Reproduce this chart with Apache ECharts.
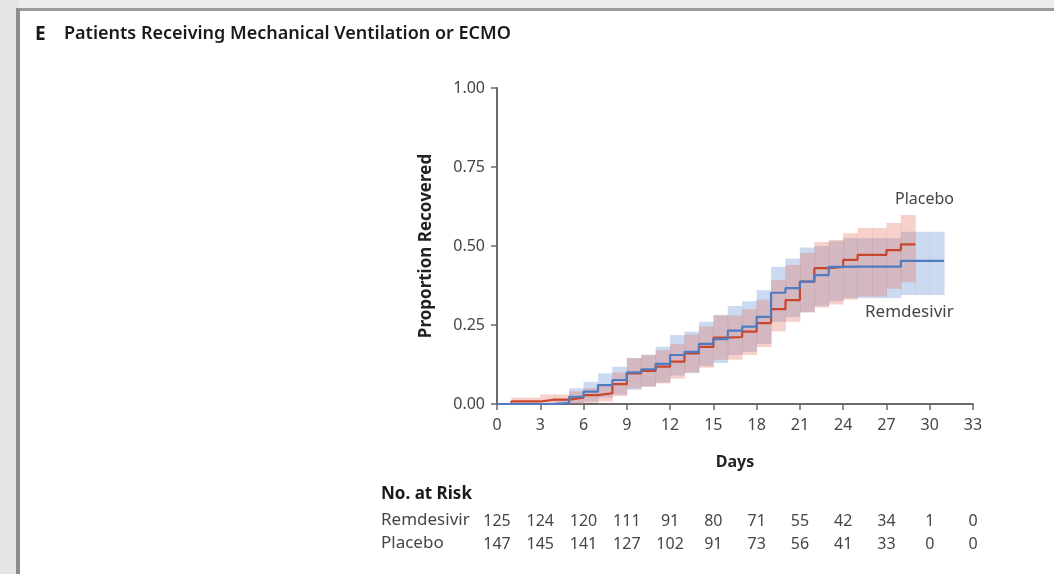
<!DOCTYPE html>
<html>
<head>
<meta charset="utf-8">
<script src="https://cdn.jsdelivr.net/npm/echarts@6/dist/echarts.min.js"></script>
<style>
html,body{margin:0;padding:0;background:#fff;}
#chart{width:1054px;height:574px;}
</style>
</head>
<body>
<div id="chart"></div>
<script>
// ---- data (value holds on [day, day+1)) ----
const remDays = [0,1,2,3,4,5,6,7,8,9,10,11,12,13,14,15,16,17,18,19,20,21,22,23,24,25,26,27,28,29,30,31];
const remEst  = [0,0,0,0,0.003,0.023,0.039,0.06,0.076,0.10,0.11,0.127,0.155,0.165,0.19,0.205,0.232,0.245,0.276,0.352,0.367,0.387,0.408,0.434,0.435,0.435,0.435,0.435,0.453,0.453,0.453,0.453];
const remLow  = [0,0,0,0,0,0.002,0.008,0.02,0.03,0.045,0.055,0.068,0.09,0.098,0.12,0.13,0.155,0.165,0.19,0.26,0.275,0.29,0.31,0.325,0.335,0.335,0.335,0.335,0.345,0.345,0.345,0.345];
const remHigh = [0.003,0.003,0.003,0.003,0.012,0.05,0.07,0.097,0.118,0.145,0.156,0.181,0.218,0.229,0.26,0.282,0.31,0.325,0.36,0.434,0.46,0.495,0.50,0.515,0.525,0.525,0.525,0.525,0.545,0.545,0.545,0.545];

const plaDays = [0,1,2,3,4,5,6,7,8,9,10,11,12,13,14,15,16,17,18,19,20,21,22,23,24,25,26,27,28,29];
const plaEst  = [0,0.008,0.008,0.014,0.014,0.02,0.028,0.034,0.063,0.097,0.105,0.118,0.134,0.16,0.181,0.21,0.212,0.229,0.256,0.30,0.329,0.387,0.43,0.434,0.456,0.472,0.472,0.487,0.505,0.505];
const plaLow  = [0,0,0,0,0,0,0.003,0.008,0.025,0.05,0.055,0.065,0.08,0.10,0.115,0.14,0.14,0.155,0.18,0.23,0.26,0.29,0.305,0.315,0.33,0.34,0.34,0.365,0.385,0.385];
const plaHigh = [0.002,0.02,0.02,0.03,0.03,0.04,0.05,0.06,0.10,0.145,0.155,0.17,0.19,0.22,0.245,0.28,0.28,0.30,0.33,0.392,0.44,0.478,0.513,0.519,0.54,0.557,0.557,0.573,0.598,0.598];

const xTicks = [0,3,6,9,12,15,18,21,24,27,30,33];
const yTicks = [0,0.25,0.5,0.75,1];
const remRisk = [125,124,120,111,91,80,71,55,42,34,1,0];
const plaRisk = [147,145,141,127,102,91,73,56,41,33,0,0];

// ---- build series data ----
const pairs = (xs, ys) => xs.map((x, i) => [x, ys[i]]);
// band rows: [dayStart, dayEnd, low, high]; last day is the end marker
const bandRows = (xs, lo, hi) => xs.slice(0, -1).map((x, i) => [x, xs[i + 1], lo[i], hi[i]]);

const FONT = '"Noto Sans", "Open Sans", sans-serif';
const AXIS_COLOR = '#6a6a6a';
const TEXT_COLOR = '#454545';
const BLUE = '#4d7cc2';
const RED = '#c8452e';

function bandRenderer(color) {
  return function (params, api) {
    const p0 = api.coord([api.value(0), api.value(3)]);
    const p1 = api.coord([api.value(1), api.value(2)]);
    return {
      type: 'rect',
      shape: {x: p0[0], y: p0[1], width: p1[0] - p0[0] + 0.4, height: Math.max(p1[1] - p0[1], 0.5)},
      style: {fill: color}
    };
  };
}

const chart = echarts.init(document.getElementById('chart'), null, {renderer: 'canvas'});

const gridPos = {left: 497, width: 476};

const option = {
  backgroundColor: '#ffffff',
  animation: false,
  textStyle: {fontFamily: FONT},
  grid: [
    {left: gridPos.left, width: gridPos.width, top: 88, height: 316},
    {left: gridPos.left, width: gridPos.width, top: 500, height: 4},
    {left: gridPos.left, width: gridPos.width, top: 523, height: 4}
  ],
  xAxis: [
    {
      gridIndex: 0, type: 'value', min: 0, max: 33, interval: 3,
      axisLine: {show: true, onZero: false, lineStyle: {color: AXIS_COLOR, width: 2}},
      axisTick: {show: true, length: 6, lineStyle: {color: AXIS_COLOR, width: 1.5}},
      axisLabel: {color: TEXT_COLOR, fontSize: 16, margin: 13, fontFamily: FONT},
      splitLine: {show: false},
      name: 'Days', nameLocation: 'middle', nameGap: 50,
      nameTextStyle: {color: '#222', fontSize: 16, fontWeight: 'bold', fontFamily: FONT}
    },
    {
      gridIndex: 1, type: 'value', min: 0, max: 33, interval: 3,
      axisLine: {show: false}, axisTick: {show: false}, splitLine: {show: false},
      axisLabel: {color: TEXT_COLOR, fontSize: 16, margin: 9, fontFamily: FONT,
        formatter: v => String(remRisk[xTicks.indexOf(v)])}
    },
    {
      gridIndex: 2, type: 'value', min: 0, max: 33, interval: 3,
      axisLine: {show: false}, axisTick: {show: false}, splitLine: {show: false},
      axisLabel: {color: TEXT_COLOR, fontSize: 16, margin: 9, fontFamily: FONT,
        formatter: v => String(plaRisk[xTicks.indexOf(v)])}
    }
  ],
  yAxis: [
    {
      gridIndex: 0, type: 'value', min: 0, max: 1, interval: 0.25,
      axisLine: {show: true, lineStyle: {color: AXIS_COLOR, width: 2}},
      axisTick: {show: true, length: 6, lineStyle: {color: AXIS_COLOR, width: 1.5}},
      axisLabel: {color: TEXT_COLOR, fontSize: 16, margin: 12, fontFamily: FONT,
        formatter: v => v.toFixed(2)},
      splitLine: {show: false},
      name: 'Proportion Recovered', nameLocation: 'middle', nameGap: 62, nameRotate: 90,
      nameTextStyle: {color: '#222', fontSize: 17, fontWeight: 'bold', fontFamily: FONT}
    },
    {gridIndex: 1, type: 'value', show: false, min: 0, max: 1},
    {gridIndex: 2, type: 'value', show: false, min: 0, max: 1}
  ],
  series: [
    {type: 'custom', name: 'remBand', coordinateSystem: 'cartesian2d', xAxisIndex: 0, yAxisIndex: 0,
      data: bandRows(remDays, remLow, remHigh), encode: {x: [0, 1], y: [2, 3]},
      renderItem: bandRenderer('rgba(110,150,215,0.36)'), silent: true, z: 1},
    {type: 'custom', name: 'plaBand', coordinateSystem: 'cartesian2d', xAxisIndex: 0, yAxisIndex: 0,
      data: bandRows(plaDays, plaLow, plaHigh), encode: {x: [0, 1], y: [2, 3]},
      renderItem: bandRenderer('rgba(228,120,100,0.34)'), silent: true, z: 2},
    {type: 'line', name: 'Placebo', data: pairs(plaDays, plaEst), step: 'end', symbol: 'none',
      lineStyle: {color: RED, width: 2.2}, z: 4},
    {type: 'line', name: 'Remdesivir', data: pairs(remDays, remEst), step: 'end', symbol: 'none',
      lineStyle: {color: BLUE, width: 2.2}, z: 5}
  ],
  graphic: [
    // screenshot frame
    {type: 'rect', left: 0, top: 0, shape: {width: 1054, height: 9}, style: {fill: '#ebeceb'}, z: 100},
    {type: 'rect', left: 0, top: 8, shape: {width: 1054, height: 3}, style: {fill: '#9a9a9a'}, z: 100},
    {type: 'rect', left: 0, top: 0, shape: {width: 18, height: 574}, style: {fill: '#e4e4e4'}, z: 100},
    {type: 'rect', left: 16, top: 8, shape: {width: 4, height: 566}, style: {fill: '#8c8c8c'}, z: 101},
    // title
    {type: 'text', left: 35, top: 25, style: {text: 'E', fill: '#1a1a1a', font: 'bold 19px ' + FONT}, z: 50},
    {type: 'text', left: 64, top: 25, style: {text: 'Patients Receiving Mechanical Ventilation or ECMO', fill: '#1a1a1a', font: '600 18px ' + FONT}, z: 50},
    // curve labels
    {type: 'text', left: 895, top: 191, style: {text: 'Placebo', fill: TEXT_COLOR, font: '16px ' + FONT}, z: 50},
    {type: 'text', left: 865, top: 304, style: {text: 'Remdesivir', fill: TEXT_COLOR, font: '17px ' + FONT}, z: 50},
    // risk table
    {type: 'text', left: 381, top: 486, style: {text: 'No. at Risk', fill: '#1a1a1a', font: 'bold 17px ' + FONT}, z: 50},
    {type: 'text', left: 381, top: 512, style: {text: 'Remdesivir', fill: TEXT_COLOR, font: '17px ' + FONT}, z: 50},
    {type: 'text', left: 381, top: 535, style: {text: 'Placebo', fill: TEXT_COLOR, font: '17px ' + FONT}, z: 50}
  ]
};
chart.setOption(option);
</script>
</body>
</html>
